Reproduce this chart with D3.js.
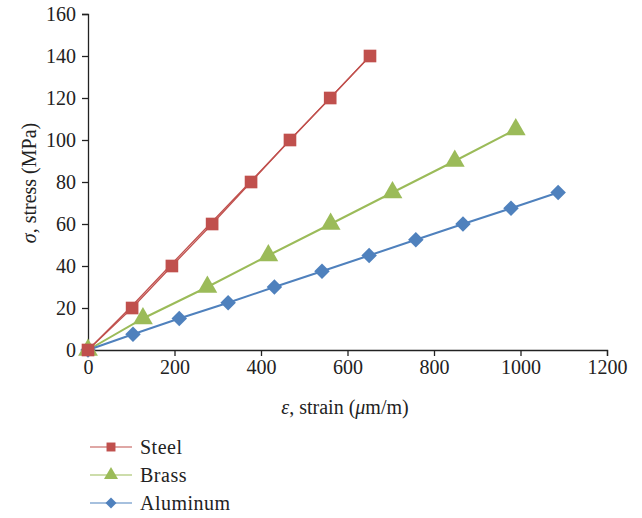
<!DOCTYPE html>
<html>
<head>
<meta charset="utf-8">
<script src="https://cdn.jsdelivr.net/npm/d3@7"></script>
<style>
  body { margin: 0; background: #fff; }
</style>
</head>
<body>
<svg id="chart" width="642" height="518"></svg>
<script>
// stress (MPa) vs strain (um/m) readings
let steelStrain   = [0, 102, 194, 287, 377, 467, 560, 652];
let steelStrainUn = [0, 97, 189, 282, 375, 467, 560, 652];
let steelStress   = [0, 20, 40, 60, 80, 100, 120, 140];

let brassStrain = [0, 127, 276, 417, 561, 704, 848, 989];
let brassStress = [0, 15, 30, 45, 60, 75, 90, 105];

let aluStrain = [0, 104, 211, 324, 431, 541, 650, 758, 867, 978, 1087];
let aluStress = [0, 7.5, 15, 22.5, 30, 37.5, 45, 52.5, 60, 67.5, 75];

let xTicks = [0, 200, 400, 600, 800, 1000, 1200];
let yTicks = [0, 20, 40, 60, 80, 100, 120, 140, 160];

let seriesNames = ["Steel", "Brass", "Aluminum"];
let seriesColors = ["#c0504d", "#9bbb59", "#4f81bd"];

let serif = "Liberation Serif";

let svg = d3.select("#chart");

let x = d3.scaleLinear().domain([0, 1200]).range([88, 607]);
let y = d3.scaleLinear().domain([0, 160]).range([350, 14]);

// axes
let xAxis = svg.append("g")
  .attr("transform", "translate(0,350)")
  .call(d3.axisBottom(x).tickValues(xTicks).tickFormat(d3.format("d")).tickSize(6).tickPadding(4));
let yAxis = svg.append("g")
  .attr("transform", "translate(88,0)")
  .call(d3.axisLeft(y).tickValues(yTicks).tickFormat(d3.format("d")).tickSize(6).tickPadding(6));

[xAxis, yAxis].forEach(function (ax)
{
  ax.attr("font-family", serif).attr("font-size", 20);
  ax.select(".domain").attr("stroke", "#222").attr("stroke-width", 1.3);
  ax.selectAll(".tick line").attr("stroke", "#222").attr("stroke-width", 1.3);
  ax.selectAll(".tick text").attr("fill", "#222");
});

// axis titles
let xTitle = svg.append("text")
  .attr("x", 345).attr("y", 414)
  .attr("text-anchor", "middle")
  .attr("font-family", serif)
  .attr("font-size", 20)
  .attr("fill", "#222");
xTitle.append("tspan").style("font-style", "italic").text("ε");
xTitle.append("tspan").text(", strain (");
xTitle.append("tspan").style("font-style", "italic").text("μ");
xTitle.append("tspan").text("m/m)");

let yTitle = svg.append("text")
  .attr("transform", "translate(36,183) rotate(-90)")
  .attr("text-anchor", "middle")
  .attr("font-family", serif)
  .attr("font-size", 20)
  .attr("fill", "#222");
yTitle.append("tspan").style("font-style", "italic").text("σ");
yTitle.append("tspan").text(", stress (MPa)");

function toPoints(xs, ys)
{
  return xs.map(function (d, i) { return [d, ys[i]]; });
}

let line = d3.line()
  .x(function (d) { return x(d[0]); })
  .y(function (d) { return y(d[1]); });

// diamond drawn as a rotated square, like the spreadsheet marker
let series = [
  { name: seriesNames[0], pts: toPoints(steelStrain, steelStress), extra: toPoints(steelStrainUn, steelStress), sym: d3.symbolSquare, size: 160, rot: 0, color: seriesColors[0] },
  { name: seriesNames[1], pts: toPoints(brassStrain, brassStress), sym: d3.symbolTriangle, size: 170, rot: 0, color: seriesColors[1] },
  { name: seriesNames[2], pts: toPoints(aluStrain, aluStress), sym: d3.symbolSquare, size: 120, rot: 45, color: seriesColors[2] }
];

// lines first, markers drawn on top
series.forEach(function (s)
{
  if (s.extra)
  {
    svg.append("path")
      .attr("d", line(s.extra))
      .style("fill", "none")
      .style("stroke", s.color)
      .style("stroke-width", 1.3);
  }
  svg.append("path")
    .attr("d", line(s.pts))
    .style("fill", "none")
    .style("stroke", s.color)
    .style("stroke-width", s.extra ? 1.3 : 2);
});

series.slice().reverse().forEach(function (s)
{
  svg.append("g").selectAll("path")
    .data(s.pts)
    .join("path")
    .attr("transform", function (d) { return "translate(" + x(d[0]) + "," + y(d[1]) + ") rotate(" + s.rot + ")"; })
    .attr("d", d3.symbol().type(s.sym).size(s.size))
    .style("fill", s.color);
});

// legend
let legend = svg.append("g").attr("transform", "translate(88,447)");
series.forEach(function (s, i)
{
  let row = legend.append("g").attr("transform", "translate(0," + (i * 28) + ")");
  row.append("line")
    .attr("x1", 2).attr("x2", 44).attr("y1", 0).attr("y2", 0)
    .style("stroke", s.color).style("stroke-width", 1.2);
  row.append("path")
    .attr("transform", "translate(23,0) rotate(" + s.rot + ")")
    .attr("d", d3.symbol().type(s.sym).size(s.size * 0.5))
    .style("fill", s.color);
  row.append("text")
    .attr("x", 52).attr("y", 7)
    .attr("font-family", serif)
    .attr("font-size", 20)
    .attr("letter-spacing", 0.5)
    .attr("fill", "#222")
    .text(s.name);
});
</script>
</body>
</html>
